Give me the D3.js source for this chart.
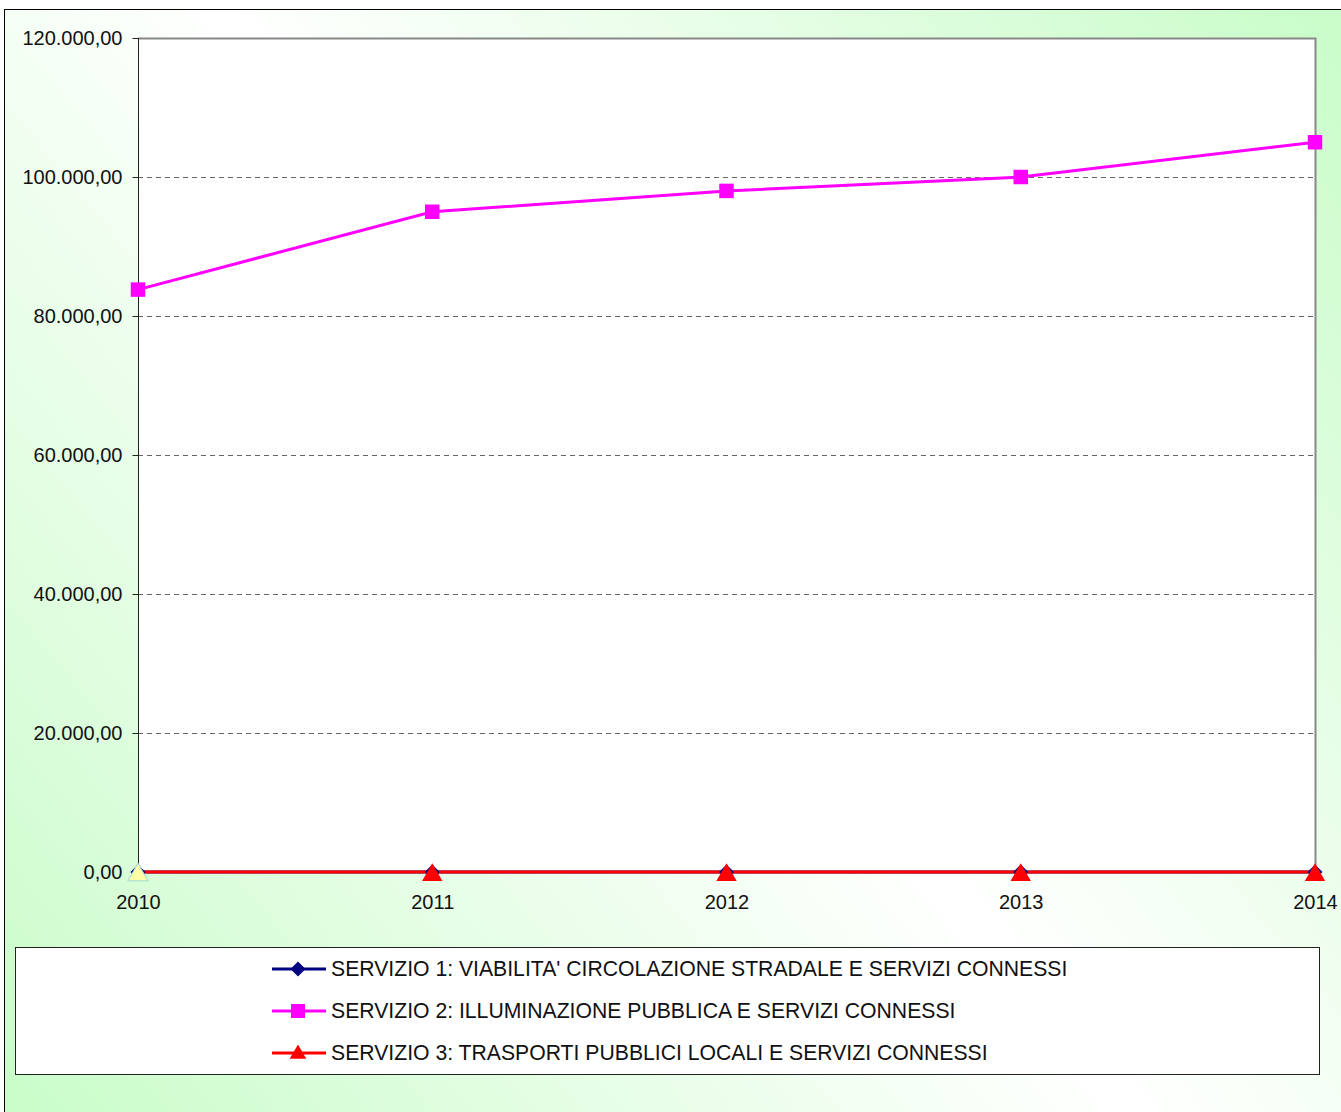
<!DOCTYPE html>
<html>
<head>
<meta charset="utf-8">
<script src="https://cdn.jsdelivr.net/npm/d3@7"></script>
<style>
  body { margin: 0; padding: 0; background: #fff; }
  svg { display: block; font-family: "Liberation Sans", Arial, Helvetica, sans-serif; }
</style>
</head>
<body>
<div id="vis"></div>
<script>
var years = ['2010', '2011', '2012', '2013', '2014'];
var yTicks = [0, 20000, 40000, 60000, 80000, 100000, 120000];

var serie1 = [0, 0, 0, 0, 0];
var serie2 = [83800, 95000, 98000, 100000, 105000];
var serie3 = [0, 0, 0, 0, 0];

var seriesNames = [
  "SERVIZIO 1: VIABILITA' CIRCOLAZIONE STRADALE E SERVIZI CONNESSI",
  "SERVIZIO 2: ILLUMINAZIONE PUBBLICA E SERVIZI CONNESSI",
  "SERVIZIO 3: TRASPORTI PUBBLICI LOCALI E SERVIZI CONNESSI"
];

function drawChart() {
  var width = 1341;
  var height = 1112;

  var svg = d3.select('#vis')
    .append('svg')
    .attr('width', width)
    .attr('height', height);

  // sfondo sfumato
  var defs = svg.append('defs');
  var grad = defs.append('linearGradient')
    .attr('id', 'bg')
    .attr('gradientUnits', 'userSpaceOnUse')
    .attr('x1', 1341).attr('y1', 0)
    .attr('x2', 0).attr('y2', 1112);
  grad.append('stop').attr('offset', '0%').attr('stop-color', '#c8fcc8');
  grad.append('stop').attr('offset', '50%').attr('stop-color', '#ffffff');
  grad.append('stop').attr('offset', '100%').attr('stop-color', '#c8fcc8');

  svg.append('rect')
    .attr('x', 4.5).attr('y', 9.5)
    .attr('width', width + 10).attr('height', height + 10)
    .attr('fill', 'url(#bg)')
    .attr('stroke', '#000')
    .attr('stroke-width', 1);

  var pLeft = 138, pRight = 1315, pTop = 38, pBottom = 872;

  var x = d3.scalePoint()
    .domain(years)
    .range([pLeft, pRight]);

  var y = d3.scaleLinear()
    .domain([0, 120000])
    .range([pBottom, pTop]);

  // area del grafico
  svg.append('rect')
    .attr('x', pLeft).attr('y', pTop)
    .attr('width', pRight - pLeft).attr('height', pBottom - pTop)
    .attr('fill', '#fff');

  // griglia
  svg.selectAll('.grid')
    .data(yTicks.filter(function (d) { return d > 0 && d < 120000; }))
    .enter().append('line')
    .attr('class', 'grid')
    .attr('x1', pLeft).attr('x2', pRight)
    .attr('y1', function (d) { return Math.round(y(d)) + 0.5; })
    .attr('y2', function (d) { return Math.round(y(d)) + 0.5; })
    .attr('stroke', '#666')
    .attr('stroke-width', 1)
    .attr('stroke-dasharray', '5,4');

  // bordo superiore e destro
  svg.append('path')
    .attr('d', 'M' + pLeft + ',' + (pTop + 0.5) + 'H' + (pRight + 0.5) + 'V' + pBottom)
    .attr('fill', 'none')
    .attr('stroke', '#888')
    .attr('stroke-width', 2);

  // asse y
  var fmt = function (d) {
    var s = d3.format(',.2f')(d);
    return s.replace(/,/g, 'X').replace('.', ',').replace(/X/g, '.');
  };

  var yAxis = svg.append('g')
    .attr('transform', 'translate(' + (pLeft + 0.5) + ',0)')
    .call(d3.axisLeft(y).tickValues(yTicks).tickSize(6).tickPadding(10).tickFormat(fmt));
  yAxis.select('.domain').attr('stroke', '#222').attr('d', 'M0,' + pTop + 'V' + pBottom);
  yAxis.selectAll('.tick line').attr('stroke', '#222');
  yAxis.selectAll('text').attr('font-size', 20).attr('fill', '#111')
    .attr('font-family', '"Liberation Sans", Arial, sans-serif');

  // asse x
  var xAxis = svg.append('g')
    .attr('transform', 'translate(0,' + pBottom + ')')
    .call(d3.axisBottom(x).tickSize(0).tickPadding(23));
  xAxis.select('.domain').remove();
  xAxis.selectAll('text').attr('font-size', 20).attr('fill', '#111')
    .attr('font-family', '"Liberation Sans", Arial, sans-serif');

  // serie
  var series = [
    { name: seriesNames[0], values: serie1, color: '#000080', marker: 'diamond' },
    { name: seriesNames[1], values: serie2, color: '#ff00ff', marker: 'square' },
    { name: seriesNames[2], values: serie3, color: '#ff0000', marker: 'triangle' }
  ];

  var line = d3.line()
    .x(function (d, i) { return x(years[i]); })
    .y(function (d) { return y(d); });

  function symbolFor(m, size) {
    var t = m === 'diamond' ? d3.symbolDiamond2 : m === 'square' ? d3.symbolSquare : d3.symbolTriangle;
    return d3.symbol().type(t).size(size)();
  }

  var markerSize = { diamond: 143, square: 210, triangle: 180 };
  var legendSize = { diamond: 143, square: 196, triangle: 120 };

  series.forEach(function (s) {
    svg.append('path')
      .datum(s.values)
      .attr('d', line)
      .attr('fill', 'none')
      .attr('stroke', s.color)
      .attr('stroke-width', 3);
  });

  series.forEach(function (s) {
    svg.selectAll('.m-' + s.marker)
      .data(s.values)
      .enter().append('path')
      .attr('class', 'm-' + s.marker)
      .attr('transform', function (d, i) {
        var dy = s.marker === 'triangle' ? 3 : 0;
        return 'translate(' + x(years[i]) + ',' + (y(d) + dy) + ')';
      })
      .attr('d', symbolFor(s.marker, markerSize[s.marker]))
      .attr('fill', function (d, i) {
        return (s.marker === 'triangle' && i === 0) ? '#ffffa8' : s.color;
      })
      .attr('stroke', function (d, i) {
        return (s.marker === 'triangle' && i === 0) ? '#9cd8d8' : 'none';
      })
      .attr('stroke-width', 1);
  });

  // legenda
  svg.append('rect')
    .attr('x', 15.5).attr('y', 947.5)
    .attr('width', 1304).attr('height', 127)
    .attr('fill', '#fff')
    .attr('stroke', '#222')
    .attr('stroke-width', 1);

  var legendY = d3.scalePoint()
    .domain(seriesNames)
    .range([969, 1053]);

  var lg = svg.selectAll('.legend')
    .data(series)
    .enter().append('g')
    .attr('class', 'legend')
    .attr('transform', function (d) { return 'translate(0,' + legendY(d.name) + ')'; });

  lg.append('line')
    .attr('x1', 272).attr('x2', 326)
    .attr('stroke', function (d) { return d.color; })
    .attr('stroke-width', 3);

  lg.append('path')
    .attr('transform', function (d) { return 'translate(298,' + (d.marker === 'triangle' ? 1 : 0) + ')'; })
    .attr('d', function (d) { return symbolFor(d.marker, legendSize[d.marker]); })
    .attr('fill', function (d) { return d.color; });

  lg.append('text')
    .attr('x', 331)
    .attr('dy', '0.35em')
    .attr('font-size', 21.2)
    .attr('fill', '#111')
    .text(function (d) { return d.name; });
}

drawChart();
</script>
</body>
</html>
